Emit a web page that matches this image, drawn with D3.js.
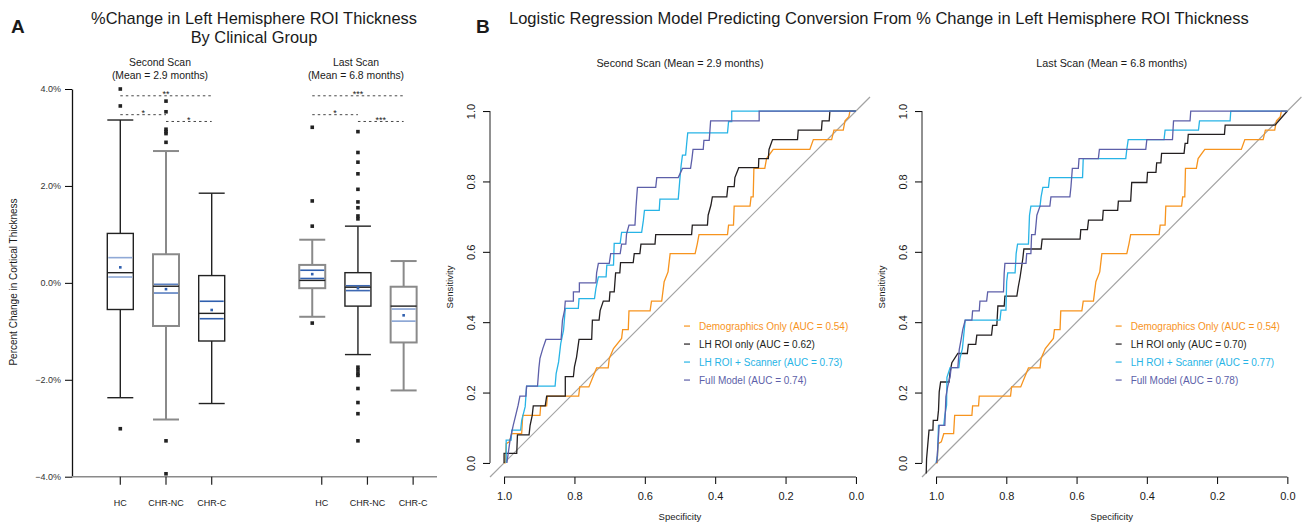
<!DOCTYPE html>
<html lang="en">
<head>
<meta charset="UTF-8">
<title>Cortical thickness change and conversion</title>
<style>
  body { margin: 0; background: #fff; }
  text { font-family: "Liberation Sans", Arial, sans-serif; fill: #1a1a1a; }
</style>
</head>
<body>
<svg id="svg" width="1304" height="523"></svg>

<script src="https://d3js.org/d3.v7.min.js"></script>
<script>
// ---------- panel A data ----------
const scans = ['Second Scan', 'Last Scan']
const scanMeans = ['(Mean = 2.9 months)', '(Mean = 6.8 months)']
const clinicalGroups = ['HC', 'CHR-NC', 'CHR-C']
const pctTicks = [4, 2, 0, -2, -4]

// six boxes: second scan HC, CHR-NC, CHR-C, then last scan HC, CHR-NC, CHR-C
const boxLow = [-2.37, -2.82, -2.49, -0.70, -1.48, -2.22]
const boxQ1 = [-0.55, -0.89, -1.20, -0.11, -0.48, -1.23]
const boxMedian = [0.21, -0.07, -0.63, 0.05, -0.09, -0.48]
const boxQ3 = [1.02, 0.59, 0.15, 0.37, 0.21, -0.08]
const boxHigh = [3.36, 2.72, 1.85, 0.89, 1.17, 0.45]
const boxMean = [0.32, -0.13, -0.56, 0.18, -0.11, -0.67]
const ciLow = [0.12, -0.21, -0.74, 0.09, -0.16, -0.79]
const ciHigh = [0.52, -0.03, -0.38, 0.26, -0.06, -0.54]
const outliers = [
  [4.0, 3.65, -3.01],
  [3.75, 3.53, 3.17, 3.12, 3.08, 2.9, -3.26, -3.94],
  [],
  [3.21, 1.69, 1.17, -0.83],
  [3.12, 2.69, 2.49, 2.25, 1.93, 1.67, 1.55, 1.38, 1.32, -1.74, -1.8, -1.87, -1.91, -2.18, -2.47, -2.70, -3.26],
  []
]

// significance brackets
const sigScan = [0, 0, 0, 1, 1, 1]
const sigFrom = [0, 0, 1, 0, 0, 1]
const sigTo = [2, 1, 2, 2, 1, 2]
const sigLevel = [3.86, 3.47, 3.33, 3.86, 3.47, 3.33]
const sigLabel = ['**', '*', '*', '***', '*', '***']

// ---------- panel B data : [specificity, sensitivity] ----------
const specTicks = [1, 0.8, 0.6, 0.4, 0.2, 0]
const rocTitles = ['Second Scan (Mean = 2.9 months)', 'Last Scan (Mean = 6.8 months)']
const modelNames = ['Demographics Only', 'LH ROI only', 'LH ROI + Scanner', 'Full Model']
const aucSecond = ['0.54', '0.62', '0.73', '0.74']
const aucLast = ['0.54', '0.70', '0.77', '0.78']

const rocDemographics = [[1,0],[0.997,0],[0.994,0.055],[0.985,0.06],[0.978,0.083],[0.95,0.083],[0.947,0.135],[0.898,0.135],[0.896,0.162],[0.879,0.162],[0.877,0.19],[0.788,0.19],[0.785,0.216],[0.759,0.216],[0.737,0.27],[0.704,0.27],[0.701,0.297],[0.689,0.325],[0.666,0.354],[0.663,0.379],[0.647,0.379],[0.645,0.432],[0.585,0.432],[0.581,0.46],[0.552,0.46],[0.545,0.515],[0.534,0.543],[0.528,0.595],[0.457,0.595],[0.451,0.622],[0.446,0.649],[0.365,0.649],[0.362,0.676],[0.348,0.676],[0.346,0.73],[0.301,0.73],[0.298,0.756],[0.292,0.756],[0.29,0.837],[0.259,0.837],[0.254,0.865],[0.235,0.891],[0.131,0.891],[0.121,0.919],[0.069,0.919],[0.0625,0.946],[0.036,0.946],[0.031,0.972],[0.02,0.984],[0.017,1],[0,1]]

const rocSecondLH = [[1,0],[1,0.027],[0.964,0.027],[0.962,0.08],[0.929,0.08],[0.926,0.107],[0.92,0.135],[0.917,0.162],[0.883,0.162],[0.879,0.19],[0.826,0.19],[0.826,0.245],[0.803,0.245],[0.8,0.273],[0.794,0.301],[0.787,0.351],[0.751,0.351],[0.749,0.406],[0.73,0.406],[0.727,0.433],[0.718,0.46],[0.701,0.46],[0.699,0.486],[0.687,0.486],[0.683,0.54],[0.671,0.54],[0.669,0.569],[0.633,0.569],[0.63,0.595],[0.614,0.595],[0.611,0.622],[0.571,0.622],[0.569,0.649],[0.467,0.649],[0.465,0.676],[0.422,0.676],[0.42,0.704],[0.412,0.733],[0.408,0.756],[0.367,0.756],[0.364,0.785],[0.346,0.785],[0.344,0.811],[0.333,0.839],[0.277,0.839],[0.276,0.865],[0.249,0.865],[0.247,0.891],[0.237,0.919],[0.166,0.919],[0.164,0.946],[0.098,0.946],[0.096,0.972],[0.076,0.972],[0.074,1],[0,1]]

const rocSecondScanner = [[0.994,0],[0.994,0.065],[0.98,0.065],[0.978,0.093],[0.953,0.093],[0.95,0.12],[0.94,0.16],[0.936,0.218],[0.855,0.218],[0.852,0.254],[0.845,0.287],[0.839,0.339],[0.831,0.377],[0.826,0.439],[0.789,0.439],[0.787,0.467],[0.743,0.467],[0.739,0.496],[0.732,0.529],[0.71,0.529],[0.708,0.562],[0.689,0.562],[0.687,0.624],[0.67,0.624],[0.666,0.655],[0.609,0.655],[0.604,0.69],[0.601,0.718],[0.559,0.718],[0.557,0.75],[0.505,0.75],[0.5,0.811],[0.497,0.844],[0.493,0.875],[0.484,0.875],[0.481,0.908],[0.478,0.938],[0.365,0.938],[0.362,0.97],[0.353,0.97],[0.353,1],[0,1]]

const rocSecondFull = [[0.992,0],[0.983,0.065],[0.974,0.107],[0.967,0.135],[0.96,0.164],[0.955,0.19],[0.938,0.19],[0.936,0.218],[0.905,0.218],[0.901,0.27],[0.898,0.297],[0.89,0.325],[0.881,0.351],[0.838,0.351],[0.834,0.406],[0.828,0.434],[0.826,0.46],[0.803,0.46],[0.803,0.486],[0.786,0.486],[0.786,0.512],[0.739,0.512],[0.737,0.54],[0.732,0.567],[0.701,0.567],[0.697,0.595],[0.67,0.595],[0.666,0.622],[0.654,0.622],[0.652,0.65],[0.645,0.676],[0.628,0.676],[0.625,0.728],[0.621,0.783],[0.569,0.783],[0.566,0.811],[0.505,0.811],[0.493,0.837],[0.47,0.837],[0.466,0.865],[0.463,0.891],[0.434,0.891],[0.432,0.917],[0.417,0.917],[0.415,0.944],[0.413,0.972],[0.275,0.972],[0.275,1],[0,1]]

const rocLastLH = [[1.028,-0.03],[1.027,0.012],[1.02,0.093],[1.009,0.093],[1.008,0.121],[0.996,0.121],[0.993,0.15],[0.991,0.202],[0.987,0.23],[0.963,0.23],[0.96,0.259],[0.955,0.285],[0.938,0.311],[0.911,0.311],[0.908,0.337],[0.887,0.337],[0.884,0.363],[0.842,0.363],[0.839,0.391],[0.827,0.391],[0.824,0.446],[0.806,0.446],[0.804,0.474],[0.77,0.474],[0.766,0.5],[0.761,0.527],[0.753,0.581],[0.75,0.608],[0.701,0.608],[0.698,0.636],[0.59,0.636],[0.588,0.663],[0.569,0.663],[0.566,0.69],[0.526,0.69],[0.524,0.718],[0.483,0.718],[0.481,0.744],[0.446,0.744],[0.443,0.797],[0.4,0.797],[0.398,0.826],[0.374,0.826],[0.372,0.853],[0.36,0.853],[0.358,0.88],[0.294,0.88],[0.291,0.908],[0.284,0.908],[0.282,0.934],[0.179,0.934],[0.177,0.96],[0.035,0.96],[0,1]]

const rocLastScanner = [[1,0],[0.996,0.02],[0.993,0.107],[0.978,0.107],[0.975,0.135],[0.97,0.164],[0.969,0.243],[0.96,0.271],[0.935,0.271],[0.932,0.297],[0.925,0.325],[0.917,0.406],[0.818,0.406],[0.815,0.434],[0.801,0.434],[0.799,0.515],[0.796,0.54],[0.775,0.54],[0.772,0.595],[0.768,0.622],[0.737,0.622],[0.734,0.704],[0.73,0.73],[0.704,0.73],[0.701,0.756],[0.696,0.783],[0.68,0.783],[0.677,0.811],[0.583,0.811],[0.581,0.865],[0.46,0.865],[0.457,0.891],[0.453,0.919],[0.351,0.919],[0.348,0.946],[0.253,0.946],[0.25,0.972],[0.163,0.972],[0.161,1],[0,1]]

const rocLastFull = [[0.998,0],[0.991,0.107],[0.975,0.107],[0.972,0.188],[0.967,0.216],[0.96,0.245],[0.957,0.271],[0.938,0.271],[0.934,0.322],[0.929,0.349],[0.924,0.379],[0.917,0.406],[0.898,0.406],[0.896,0.432],[0.877,0.432],[0.875,0.46],[0.856,0.46],[0.853,0.486],[0.808,0.486],[0.806,0.54],[0.804,0.567],[0.744,0.567],[0.742,0.595],[0.73,0.595],[0.728,0.649],[0.718,0.649],[0.713,0.704],[0.704,0.73],[0.676,0.73],[0.673,0.756],[0.619,0.756],[0.616,0.785],[0.612,0.837],[0.595,0.837],[0.593,0.865],[0.538,0.865],[0.535,0.891],[0.403,0.891],[0.4,0.919],[0.327,0.919],[0.324,0.972],[0.277,0.972],[0.275,1],[0,1]]

const modelColors = ['#f7941e', '#231f20', '#27b4e6', '#5d5fa9']

/* --------------------------------------------------------------------- */

const svg = d3.select('#svg')

// panel letters + titles
svg.append('text').text('A').attr('x', 11).attr('y', 33)
  .style('font-size', '19px').style('font-weight', 'bold')
svg.append('text').text('B').attr('x', 476).attr('y', 33)
  .style('font-size', '19px').style('font-weight', 'bold')

svg.append('text').attr('x', 254).attr('y', 24).attr('text-anchor', 'middle')
  .style('font-size', '16.4px').text('%Change in Left Hemisphere ROI Thickness')
svg.append('text').attr('x', 254).attr('y', 43).attr('text-anchor', 'middle')
  .style('font-size', '16.4px').text('By Clinical Group')

svg.append('text').attr('x', 509).attr('y', 24)
  .style('font-size', '16.5px')
  .text('Logistic Regression Model Predicting Conversion From % Change in Left Hemisphere ROI Thickness')

// ---------- panel A : boxplots ----------
const yA = d3.scaleLinear().domain([-4, 4]).range([476.7, 89])
const slotX = d3.scaleLinear().domain([0, 1]).range([120.3, 166])
const boxW = 26
const tickShift = [0, 9.5]   // tick labels of the second group sit a bit right of the boxes
const boxStroke = ['#222', '#8a8a8a', '#222', '#8a8a8a', '#222', '#8a8a8a']
const boxWidth = [1.4, 2, 1.4, 2, 1.4, 2]
const ciStroke = ['#8fa9d6', '#5a7fc0', '#2f5fae', '#2f5fae', '#3d68b3', '#86a2d3']

const boxes = d3.range(6).map(i => ({
  i,
  scan: Math.floor(i / 3),
  cat: i % 3,
  cx: slotX(i % 3 + Math.floor(i / 3) * 4.2)
}))

const yAxisA = svg.append('g').attr('transform', 'translate(72,0)')
  .call(d3.axisLeft(yA).tickValues(pctTicks).tickFormat(d => d3.format('.1f')(d) + '%')
    .tickSize(7).tickSizeOuter(0).tickPadding(4))
yAxisA.selectAll('text').style('font-size', '9px').style('fill', '#333')
yAxisA.select('.domain').attr('stroke', '#111').attr('stroke-width', 1.3)

svg.append('text').attr('transform', 'translate(17,282) rotate(-90)')
  .attr('text-anchor', 'middle').style('font-size', '10px')
  .text('Percent Change in Cortical Thickness')

// bottom line + ticks
svg.append('line').attr('x1', 72).attr('x2', 437).attr('y1', yA(-4)).attr('y2', yA(-4))
  .attr('stroke', '#8a8a8a').attr('stroke-width', 1.6)

const cats = svg.append('g').selectAll('g').data(boxes).enter().append('g')
cats.append('line')
  .attr('x1', d => d.cx + tickShift[d.scan]).attr('x2', d => d.cx + tickShift[d.scan])
  .attr('y1', yA(-4)).attr('y2', yA(-4) + 8).attr('stroke', '#222').attr('stroke-width', 1.2)
cats.append('text')
  .attr('x', d => d.cx + tickShift[d.scan]).attr('y', yA(-4) + 29.5)
  .attr('text-anchor', 'middle').attr('fill', '#111').style('font-size', '9px')
  .text(d => clinicalGroups[d.cat])

// group headers
scans.forEach((s, g) => {
  const cx = g === 0 ? 160 : 356
  svg.append('text').attr('x', cx).attr('y', 66).attr('text-anchor', 'middle')
    .style('font-size', '10.4px').text(s)
  svg.append('text').attr('x', cx).attr('y', 79).attr('text-anchor', 'middle')
    .style('font-size', '10.4px').text(scanMeans[g])
})

const bx = svg.append('g').selectAll('g').data(boxes).enter().append('g')

// whiskers
bx.append('line')
  .attr('x1', d => d.cx).attr('x2', d => d.cx)
  .attr('y1', d => yA(boxHigh[d.i])).attr('y2', d => yA(boxQ3[d.i]))
  .attr('stroke', d => boxStroke[d.i]).attr('stroke-width', d => boxWidth[d.i])
bx.append('line')
  .attr('x1', d => d.cx).attr('x2', d => d.cx)
  .attr('y1', d => yA(boxQ1[d.i])).attr('y2', d => yA(boxLow[d.i]))
  .attr('stroke', d => boxStroke[d.i]).attr('stroke-width', d => boxWidth[d.i])
bx.append('line')
  .attr('x1', d => d.cx - boxW / 2).attr('x2', d => d.cx + boxW / 2)
  .attr('y1', d => yA(boxHigh[d.i])).attr('y2', d => yA(boxHigh[d.i]))
  .attr('stroke', d => boxStroke[d.i]).attr('stroke-width', d => boxWidth[d.i])
bx.append('line')
  .attr('x1', d => d.cx - boxW / 2).attr('x2', d => d.cx + boxW / 2)
  .attr('y1', d => yA(boxLow[d.i])).attr('y2', d => yA(boxLow[d.i]))
  .attr('stroke', d => boxStroke[d.i]).attr('stroke-width', d => boxWidth[d.i])

// box
bx.append('rect')
  .attr('x', d => d.cx - boxW / 2).attr('width', boxW)
  .attr('y', d => yA(boxQ3[d.i])).attr('height', d => yA(boxQ1[d.i]) - yA(boxQ3[d.i]))
  .attr('fill', '#fff')
  .attr('stroke', d => boxStroke[d.i]).attr('stroke-width', d => boxWidth[d.i])

// confidence lines around the mean
bx.append('line')
  .attr('x1', d => d.cx - boxW / 2 + 1).attr('x2', d => d.cx + boxW / 2 - 1)
  .attr('y1', d => yA(ciHigh[d.i])).attr('y2', d => yA(ciHigh[d.i]))
  .attr('stroke', d => ciStroke[d.i]).attr('stroke-width', 1.6)
bx.append('line')
  .attr('x1', d => d.cx - boxW / 2 + 1).attr('x2', d => d.cx + boxW / 2 - 1)
  .attr('y1', d => yA(ciLow[d.i])).attr('y2', d => yA(ciLow[d.i]))
  .attr('stroke', d => ciStroke[d.i]).attr('stroke-width', 1.6)

// median
bx.append('line')
  .attr('x1', d => d.cx - boxW / 2).attr('x2', d => d.cx + boxW / 2)
  .attr('y1', d => yA(boxMedian[d.i])).attr('y2', d => yA(boxMedian[d.i]))
  .attr('stroke', '#222').attr('stroke-width', 1.4)

// mean
bx.append('rect')
  .attr('x', d => d.cx - 1.3).attr('y', d => yA(boxMean[d.i]) - 1.3)
  .attr('width', 2.6).attr('height', 2.6).attr('fill', '#2f5fae')

// outliers
bx.selectAll('.out').data(d => outliers[d.i].map(v => ({ v, cx: d.cx }))).enter()
  .append('rect')
  .attr('x', d => d.cx - 1.8).attr('y', d => yA(d.v) - 1.8)
  .attr('width', 3.6).attr('height', 3.6).attr('fill', '#222')

// significance brackets
const sig = svg.append('g').selectAll('g').data(d3.range(sigLabel.length)).enter().append('g')
const sx = (k, c) => slotX(c + sigScan[k] * 4.2)
sig.append('line')
  .attr('x1', k => sx(k, sigFrom[k])).attr('x2', k => sx(k, sigTo[k]))
  .attr('y1', k => yA(sigLevel[k])).attr('y2', k => yA(sigLevel[k]))
  .attr('stroke', '#333').attr('stroke-width', 0.9).attr('stroke-dasharray', '2.5,3')
sig.append('text')
  .attr('x', k => (sx(k, sigFrom[k]) + sx(k, sigTo[k])) / 2)
  .attr('y', k => yA(sigLevel[k]) + 1.5)
  .attr('text-anchor', 'middle').style('font-size', '9px')
  .text(k => sigLabel[k])

// ---------- panel B : ROC curves ----------
function drawRoc(range, curves, aucs, title) {
  const x = d3.scaleLinear().domain([1.04, -0.04]).range(range)
  const y = d3.scaleLinear().domain([-0.04, 1.04]).range([477, 97])
  const g = svg.append('g')

  const xAxis = g.append('g').attr('transform', `translate(0,${y(-0.04)})`)
    .call(d3.axisBottom(x).tickValues(specTicks).tickFormat(d3.format('.1f'))
      .tickSize(7).tickPadding(8))
  xAxis.select('.domain').remove()
  xAxis.append('line').attr('x1', x(1)).attr('x2', x(0)).attr('stroke', '#222')
  xAxis.selectAll('text').style('font-size', '11px')

  const yAxis = g.append('g').attr('transform', `translate(${x(1.04)},0)`)
    .call(d3.axisLeft(y).tickValues(specTicks).tickFormat(d3.format('.1f')).tickSize(7))
  yAxis.select('.domain').remove()
  yAxis.append('line').attr('y1', y(0)).attr('y2', y(1)).attr('stroke', '#222')
  yAxis.selectAll('text')
    .attr('transform', 'rotate(-90)').attr('x', 0).attr('y', -15).attr('dy', null)
    .attr('text-anchor', 'middle').style('font-size', '11px')

  g.append('text').attr('transform', `translate(${x(1.04) - 37},${y(0.5)}) rotate(-90)`)
    .attr('text-anchor', 'middle').style('font-size', '9.5px').text('Sensitivity')
  g.append('text').attr('x', x(0.5)).attr('y', 520).attr('text-anchor', 'middle')
    .style('font-size', '9.5px').text('Specificity')
  g.append('text').attr('x', x(0.5)).attr('y', 66.5).attr('text-anchor', 'middle')
    .style('font-size', '10.8px').text(title)

  // chance line
  g.append('line')
    .attr('x1', x(1.04)).attr('y1', y(-0.04)).attr('x2', x(-0.04)).attr('y2', y(1.04))
    .attr('stroke', '#a3a3a3').attr('stroke-width', 1.2)

  const line = d3.line().x(d => x(d[0])).y(d => y(d[1]))
  g.selectAll('.roc').data(curves).enter().append('path')
    .attr('d', line)
    .attr('fill', 'none')
    .attr('stroke', (d, i) => modelColors[i])
    .attr('stroke-width', 1.3)

  // legend
  const lx = x(0.446)
  const leg = g.selectAll('.leg').data(modelNames).enter().append('g')
    .attr('transform', (d, i) => `translate(${lx},${y(0.389) + i * 18})`)
  leg.append('line').attr('x1', -15).attr('x2', -9)
    .attr('stroke', (d, i) => modelColors[i]).attr('stroke-width', 1.2)
  leg.append('text').attr('y', 3.6)
    .style('font-size', '10px')
    .style('fill', (d, i) => modelColors[i])
    .text((d, i) => `${d} (AUC = ${aucs[i]})`)
}

drawRoc([490, 870], [rocDemographics, rocSecondLH, rocSecondScanner, rocSecondFull], aucSecond, rocTitles[0])
drawRoc([922, 1301.4], [rocDemographics, rocLastLH, rocLastScanner, rocLastFull], aucLast, rocTitles[1])
</script>
</body>
</html>
